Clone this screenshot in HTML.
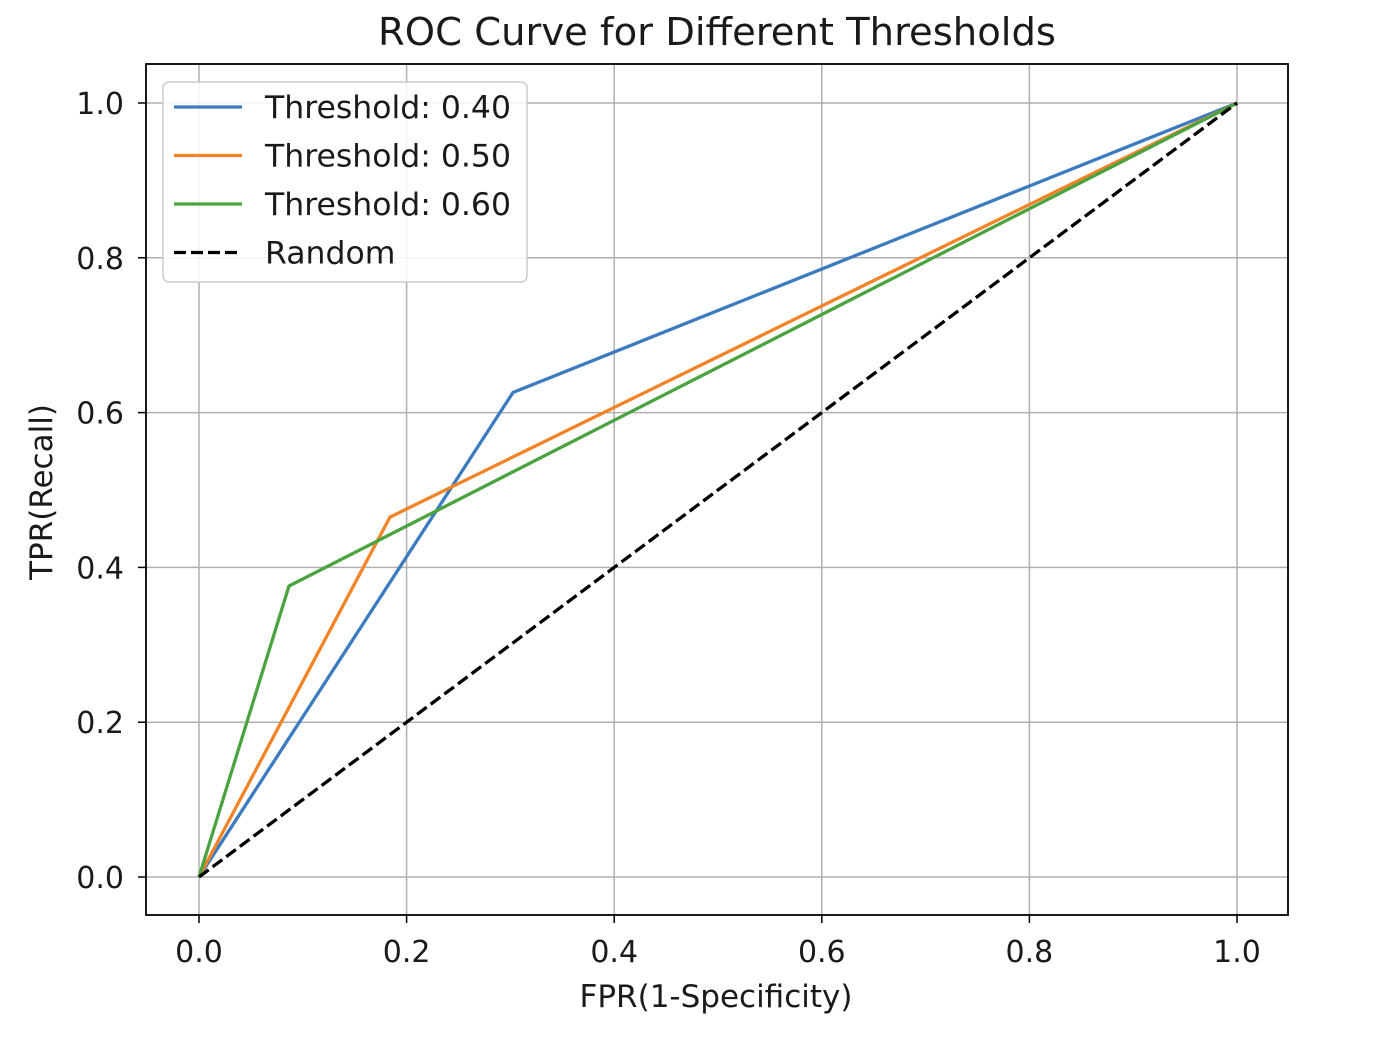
<!DOCTYPE html>
<html><head><meta charset="utf-8"><style>
body{margin:0;background:#fff}
svg text{font-family:"DejaVu Sans","Liberation Sans",sans-serif;fill:#1a1a1a}
</style></head><body>
<svg id="chart" width="1380" height="1036">
<text x="717" y="45" font-size="38.5" text-anchor="middle">ROC Curve for Different Thresholds</text>
<g id="grid"></g>
<g id="ticks"></g>
<g id="series"></g>
<rect x="146" y="64" width="1142" height="851" fill="none" stroke="#000" stroke-width="1.8"/>
<text x="716" y="1007" font-size="31" text-anchor="middle">FPR(1-Specificity)</text>
<text transform="translate(52,492) rotate(-90)" font-size="31" text-anchor="middle">TPR(Recall)</text>
<g id="legend">
<rect x="163" y="82" width="364" height="200" rx="6" fill="#fff" fill-opacity="0.85" stroke="#ccc" stroke-width="1.5"/>
</g>
</svg>
<script>
const names=["Threshold: 0.40","Threshold: 0.50","Threshold: 0.60"];
const colors=["#3b7bbf","#f28427","#4aa33f"];
const fpr40=[0,0.3025,1];const tpr40=[0,0.626,1];
const fpr50=[0,0.184,1];const tpr50=[0,0.465,1];
const fpr60=[0,0.0867,1];const tpr60=[0,0.376,1];
const ticks=[0,0.2,0.4,0.6,0.8,1.0];
const tickLabels=["0.0","0.2","0.4","0.6","0.8","1.0"];
const X=v=>199+v*1038, Y=v=>877-v*774;
const NS="http://www.w3.org/2000/svg";
function mk(p,t,a){const e=document.createElementNS(NS,t);for(const k in a)e.setAttribute(k,a[k]);document.getElementById(p).appendChild(e);return e;}
ticks.forEach((t,i)=>{
 let g=mk("grid","line",{x1:X(t),x2:X(t),y1:64,y2:915,stroke:"#b0b0b0","stroke-width":1.5});
 
 
 g=mk("grid","line",{x1:146,x2:1288,y1:Y(t),y2:Y(t),stroke:"#b0b0b0","stroke-width":1.5});
 
 
 mk("ticks","line",{x1:X(t),x2:X(t),y1:915,y2:923,stroke:"#000","stroke-width":1.5});
 mk("ticks","line",{x1:138,x2:146,y1:Y(t),y2:Y(t),stroke:"#000","stroke-width":1.5});
 let l=mk("ticks","text",{x:X(t),y:962,"font-size":30,"text-anchor":"middle"});l.textContent=tickLabels[i];
 
 
 l=mk("ticks","text",{x:124,y:Y(t)+11,"font-size":30,"text-anchor":"end"});l.textContent=tickLabels[i];
 
 
});
const xs=[fpr40,fpr50,fpr60], ys=[tpr40,tpr50,tpr60];
xs.forEach((fx,s)=>{
 const pts=fx.map((v,i)=>X(v)+","+Y(ys[s][i])).join(" ");
 const p=mk("series","polyline",{points:pts,fill:"none",stroke:colors[s],"stroke-width":3.3});
 
 
});
const r=mk("series","line",{x1:X(0),y1:Y(0),x2:X(1),y2:Y(1),stroke:"#000","stroke-width":3.3,"stroke-dasharray":"12,5"});


const lab=names.concat(["Random"]), lc=colors.concat(["#000"]);
lab.forEach((n,i)=>{
 const y=107+i*48.5;
 mk("legend","line",{x1:174,x2:242,y1:y,y2:y,stroke:lc[i],"stroke-width":3.3,"stroke-dasharray":i==3?"12,5":"none"});
 const t=mk("legend","text",{x:265,y:y+11,"font-size":31.5});t.textContent=n;
 
 
});
</script>
</body></html>
